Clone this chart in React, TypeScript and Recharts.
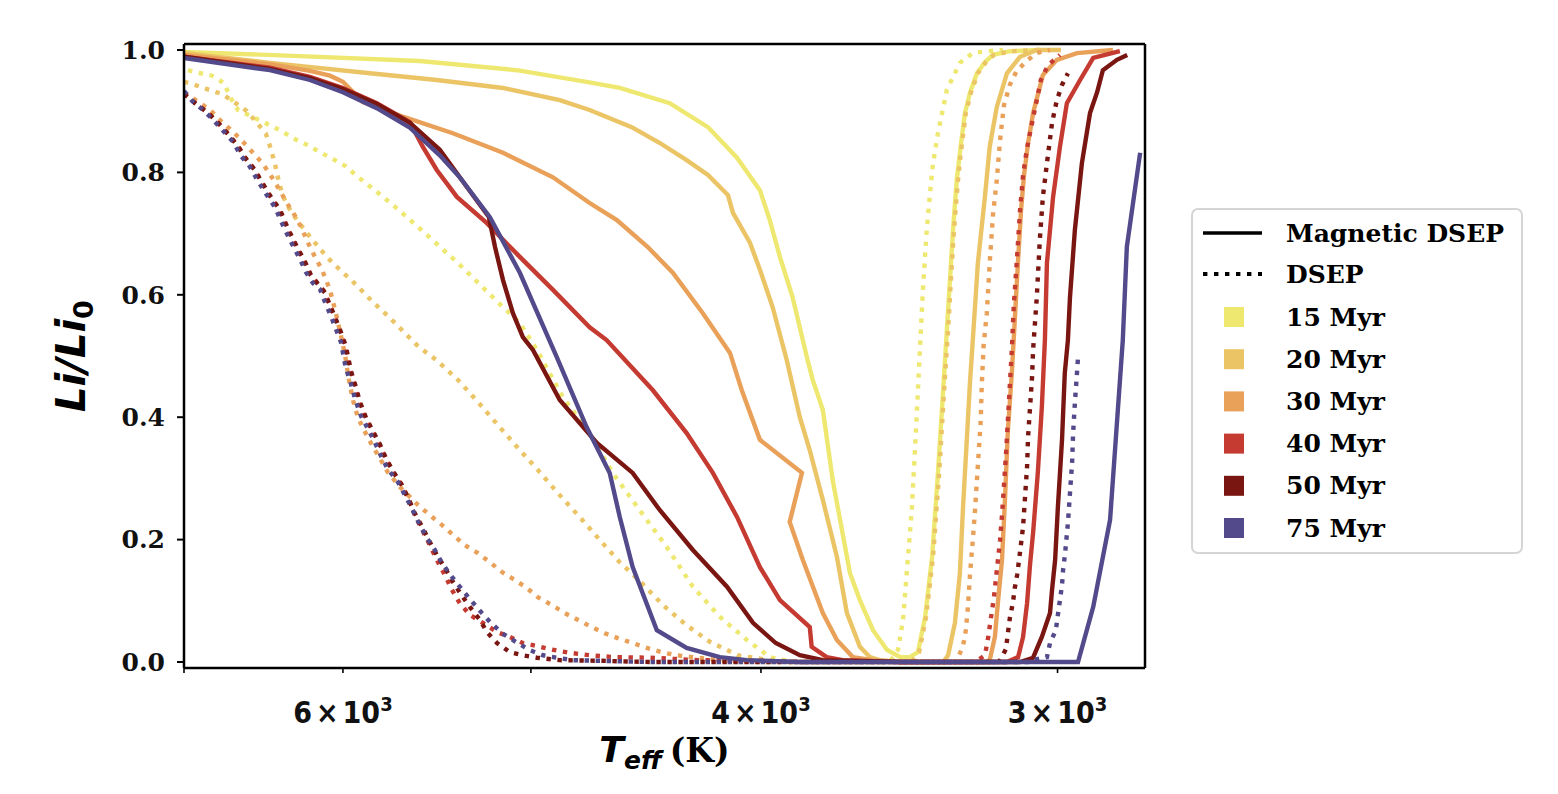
import React from 'react';
import { LineChart, Line, XAxis, YAxis } from 'recharts';

type Pt = [number, number];

const ages = ['15 Myr', '20 Myr', '30 Myr', '40 Myr', '50 Myr', '75 Myr'];
const colors = ['#eee870', '#ebc465', '#e9a15a', '#c53a31', '#7a1611', '#524a8b'];

// Magnetic DSEP: [Teff (K), Li/Li0]
const mag15: Pt[] = [
  [7000, 0.997], [6255, 0.99], [5569, 0.982], [5069, 0.967], [4737, 0.948], [4587, 0.938], [4370, 0.913],
  [4211, 0.874], [4094, 0.824], [4004, 0.771], [3966, 0.722], [3927, 0.662], [3879, 0.596], [3823, 0.493],
  [3804, 0.461], [3767, 0.412], [3731, 0.297], [3669, 0.145], [3634, 0.101], [3588, 0.052], [3540, 0.02],
  [3495, 0.008], [3462, 0.008], [3435, 0.016], [3411, 0.074], [3388, 0.172], [3369, 0.309], [3352, 0.444],
  [3340, 0.542], [3330, 0.624], [3320, 0.706], [3308, 0.788], [3298, 0.832], [3282, 0.897], [3266, 0.93],
  [3244, 0.962], [3219, 0.98], [3194, 0.992], [3142, 0.998], [3052, 1.0],
];
const mag20: Pt[] = [
  [7000, 0.995], [6440, 0.979], [5845, 0.962], [5478, 0.951], [5137, 0.938], [4862, 0.918], [4723, 0.902],
  [4534, 0.874], [4412, 0.848], [4299, 0.82], [4211, 0.796], [4130, 0.763], [4110, 0.734], [4043, 0.685],
  [4004, 0.641], [3955, 0.58], [3901, 0.493], [3852, 0.4], [3815, 0.346], [3767, 0.265], [3716, 0.172],
  [3680, 0.08], [3634, 0.025], [3599, 0.008], [3565, 0.003], [3495, 0], [3352, 0], [3336, 0.011],
  [3314, 0.064], [3298, 0.145], [3288, 0.253], [3276, 0.363], [3266, 0.456], [3257, 0.526], [3241, 0.652],
  [3219, 0.76], [3204, 0.842], [3182, 0.907], [3151, 0.962], [3111, 0.989], [3061, 1.0], [2990, 1.0],
];
const mag30: Pt[] = [
  [7000, 0.992], [6440, 0.977], [6195, 0.966], [6076, 0.958], [6000, 0.948], [5885, 0.915], [5661, 0.891],
  [5393, 0.864], [5137, 0.832], [4894, 0.792], [4723, 0.75], [4600, 0.722], [4464, 0.678], [4357, 0.636],
  [4232, 0.57], [4122, 0.505], [4075, 0.444], [4004, 0.363], [3844, 0.309], [3890, 0.229], [3841, 0.167],
  [3767, 0.08], [3716, 0.036], [3659, 0.008], [3588, 0.003], [3495, 0], [3219, 0], [3204, 0.003],
  [3188, 0.041], [3178, 0.101], [3166, 0.167], [3157, 0.265], [3148, 0.379], [3136, 0.472], [3127, 0.559],
  [3117, 0.657], [3108, 0.739], [3099, 0.796], [3087, 0.848], [3072, 0.897], [3043, 0.959], [3002, 0.984],
  [2944, 0.995], [2843, 1.0],
];
const mag40: Pt[] = [
  [7000, 0.989], [6440, 0.971], [6195, 0.956], [6000, 0.938], [5806, 0.913], [5623, 0.882], [5553, 0.842],
  [5478, 0.804], [5372, 0.76], [5218, 0.717], [5054, 0.662], [4894, 0.608], [4723, 0.547], [4646, 0.526],
  [4442, 0.444], [4299, 0.374], [4191, 0.309], [4094, 0.237], [4004, 0.155], [3927, 0.101], [3815, 0.057],
  [3808, 0.025], [3753, 0.008], [3695, 0.003], [3495, 0], [3151, 0], [3117, 0.008], [3102, 0.041],
  [3090, 0.096], [3081, 0.16], [3072, 0.211], [3058, 0.309], [3046, 0.417], [3037, 0.526], [3031, 0.652],
  [3013, 0.76], [2993, 0.842], [2973, 0.913], [2935, 0.951], [2898, 0.987], [2824, 0.998],
];
const mag50: Pt[] = [
  [7000, 0.989], [6440, 0.969], [6195, 0.954], [6000, 0.936], [5806, 0.912], [5623, 0.881], [5462, 0.837],
  [5357, 0.792], [5208, 0.727], [5177, 0.678], [5137, 0.624], [5088, 0.57], [5039, 0.531], [4990, 0.51],
  [4862, 0.428], [4690, 0.358], [4530, 0.309], [4412, 0.248], [4273, 0.183], [4134, 0.123], [4031, 0.064],
  [3943, 0.031], [3852, 0.011], [3767, 0.003], [3495, 0], [3111, 0], [3072, 0.007], [3046, 0.041],
  [3022, 0.08], [3016, 0.118], [3007, 0.167], [2999, 0.253], [2987, 0.363], [2979, 0.472], [2970, 0.526],
  [2964, 0.596], [2950, 0.706], [2930, 0.815], [2907, 0.897], [2887, 0.931], [2871, 0.967], [2832, 0.984],
  [2804, 0.992],
];
const mag75: Pt[] = [
  [7000, 0.987], [6440, 0.967], [6195, 0.951], [6000, 0.931], [5806, 0.905], [5623, 0.873], [5462, 0.828],
  [5357, 0.792], [5203, 0.727], [5054, 0.636], [4876, 0.498], [4737, 0.384], [4632, 0.309], [4587, 0.237],
  [4530, 0.155], [4425, 0.052], [4299, 0.023], [4163, 0.008], [4055, 0.003], [3852, 0], [2941, 0],
  [2898, 0.09], [2851, 0.232], [2816, 0.526], [2805, 0.678], [2769, 0.832],
];

// standard DSEP
const dsep15: Pt[] = [
  [6973, 0.967], [6925, 0.964], [6812, 0.958], [6733, 0.946], [6694, 0.923], [6643, 0.902], [6553, 0.891],
  [6472, 0.881], [6378, 0.869], [6298, 0.856], [6213, 0.845], [6135, 0.833], [6059, 0.822], [5983, 0.81],
  [5919, 0.794], [5716, 0.747], [5531, 0.698], [5357, 0.649], [5188, 0.596], [5054, 0.554], [4971, 0.51],
  [4848, 0.433], [4723, 0.374], [4619, 0.309], [4499, 0.248], [4383, 0.188], [4273, 0.123], [4163, 0.074],
  [4055, 0.036], [3966, 0.008], [3879, 0], [3530, 0], [3502, 0.02], [3485, 0.069], [3469, 0.167],
  [3455, 0.253], [3445, 0.346], [3435, 0.444], [3428, 0.515], [3418, 0.613], [3405, 0.711], [3395, 0.766],
  [3385, 0.815], [3369, 0.864], [3340, 0.935], [3298, 0.979], [3257, 0.995], [3213, 0.998], [3163, 1.0],
];
const dsep20: Pt[] = [
  [7000, 0.948], [6939, 0.944], [6845, 0.936], [6746, 0.928], [6668, 0.915], [6585, 0.9], [6522, 0.881],
  [6465, 0.863], [6434, 0.838], [6409, 0.814], [6390, 0.791], [6366, 0.766], [6335, 0.747], [6273, 0.722],
  [6213, 0.701], [6153, 0.681], [6088, 0.66], [6018, 0.641], [5948, 0.623], [5885, 0.605], [5828, 0.588],
  [5761, 0.57], [5694, 0.551], [5639, 0.534], [5585, 0.518], [5531, 0.505], [5478, 0.493], [5367, 0.461],
  [5264, 0.425], [5162, 0.387], [5064, 0.35], [4967, 0.314], [4871, 0.276], [4769, 0.237], [4676, 0.199],
  [4587, 0.163], [4490, 0.129], [4399, 0.093], [4299, 0.06], [4203, 0.033], [4091, 0.011], [3966, 0.003],
  [3852, 0], [3455, 0], [3431, 0.016], [3408, 0.074], [3385, 0.172], [3365, 0.309], [3349, 0.444],
  [3336, 0.542], [3327, 0.624], [3317, 0.706], [3304, 0.788], [3295, 0.832], [3279, 0.897], [3263, 0.93],
  [3241, 0.962], [3216, 0.98], [3191, 0.992], [3139, 0.998], [3052, 1.0],
];
const dsep30: Pt[] = [
  [7000, 0.931], [6825, 0.902], [6746, 0.882], [6681, 0.868], [6611, 0.85], [6547, 0.832], [6484, 0.814],
  [6428, 0.792], [6384, 0.773], [6335, 0.75], [6285, 0.729], [6243, 0.708], [6207, 0.685], [6165, 0.662],
  [6123, 0.641], [6076, 0.608], [6041, 0.57], [6012, 0.534], [5988, 0.502], [5965, 0.461], [5942, 0.428],
  [5913, 0.399], [5873, 0.376], [5834, 0.355], [5789, 0.333], [5744, 0.31], [5677, 0.286], [5580, 0.257],
  [5515, 0.24], [5451, 0.224], [5393, 0.208], [5331, 0.191], [5264, 0.178], [5203, 0.163], [5142, 0.147],
  [5078, 0.134], [5020, 0.121], [4967, 0.106], [4899, 0.093], [4839, 0.08], [4778, 0.069], [4714, 0.057],
  [4654, 0.047], [4596, 0.039], [4530, 0.031], [4468, 0.023], [4404, 0.016], [4341, 0.011], [4278, 0.008],
  [4163, 0.003], [4004, 0], [3314, 0], [3304, 0.007], [3288, 0.026], [3279, 0.052], [3272, 0.093],
  [3266, 0.142], [3257, 0.199], [3250, 0.248], [3244, 0.297], [3238, 0.346], [3232, 0.395], [3229, 0.449],
  [3223, 0.518], [3213, 0.57], [3204, 0.652], [3194, 0.73], [3182, 0.788], [3172, 0.853], [3160, 0.91],
  [3142, 0.943], [3123, 0.964], [3096, 0.98], [3061, 0.995], [3022, 1.0],
];
const dsep40: Pt[] = [
  [7000, 0.93], [6925, 0.913], [6845, 0.899], [6779, 0.882], [6714, 0.864], [6649, 0.845], [6598, 0.824],
  [6541, 0.806], [6490, 0.783], [6440, 0.761], [6384, 0.74], [6347, 0.717], [6316, 0.699], [6273, 0.676],
  [6231, 0.655], [6195, 0.634], [6111, 0.606], [6082, 0.585], [6047, 0.562], [6018, 0.541], [5988, 0.518],
  [5959, 0.477], [5930, 0.451], [5908, 0.426], [5873, 0.4], [5834, 0.379], [5795, 0.358], [5761, 0.335],
  [5722, 0.314], [5672, 0.291], [5628, 0.265], [5596, 0.24], [5553, 0.214], [5515, 0.191], [5478, 0.167],
  [5435, 0.142], [5398, 0.118], [5357, 0.096], [5305, 0.077], [5239, 0.064], [5167, 0.049], [5103, 0.041],
  [5039, 0.031], [4971, 0.026], [4894, 0.02], [4815, 0.015], [4723, 0.011], [4610, 0.008], [4455, 0.007],
  [4244, 0.003], [4004, 0.002], [3852, 0], [3250, 0], [3219, 0.011], [3210, 0.036], [3201, 0.069],
  [3191, 0.105], [3182, 0.15], [3172, 0.199], [3166, 0.24], [3160, 0.289], [3154, 0.338], [3148, 0.395],
  [3142, 0.453], [3136, 0.51], [3130, 0.583], [3120, 0.662], [3111, 0.739], [3102, 0.796], [3090, 0.84],
  [3078, 0.873], [3064, 0.91], [3049, 0.951], [3028, 0.975], [2993, 0.992],
];
const dsep50: Pt[] = [
  [7000, 0.928], [6919, 0.912], [6838, 0.897], [6772, 0.881], [6707, 0.863], [6643, 0.843], [6591, 0.822],
  [6535, 0.804], [6484, 0.781], [6434, 0.76], [6378, 0.739], [6341, 0.716], [6310, 0.698], [6267, 0.675],
  [6225, 0.654], [6189, 0.632], [6105, 0.603], [6076, 0.583], [6041, 0.56], [6012, 0.539], [5983, 0.516],
  [5953, 0.475], [5925, 0.449], [5902, 0.425], [5867, 0.399], [5828, 0.377], [5789, 0.356], [5755, 0.333],
  [5716, 0.312], [5666, 0.289], [5628, 0.265], [5596, 0.243], [5553, 0.219], [5515, 0.196], [5478, 0.175],
  [5435, 0.154], [5393, 0.131], [5347, 0.109], [5305, 0.09], [5254, 0.069], [5218, 0.049], [5167, 0.031],
  [5103, 0.016], [5039, 0.011], [4971, 0.007], [4862, 0.003], [4676, 0.002], [4455, 0], [3178, 0],
  [3172, 0.003], [3154, 0.021], [3148, 0.047], [3142, 0.072], [3133, 0.096], [3127, 0.121], [3120, 0.142],
  [3114, 0.167], [3102, 0.221], [3096, 0.27], [3090, 0.319], [3087, 0.368], [3081, 0.417], [3075, 0.466],
  [3072, 0.51], [3061, 0.596], [3052, 0.69], [3043, 0.76], [3031, 0.815], [3016, 0.881], [3002, 0.918],
  [2987, 0.943], [2970, 0.962],
];
const dsep75: Pt[] = [
  [7000, 0.933], [6946, 0.917], [6872, 0.902], [6805, 0.886], [6740, 0.868], [6675, 0.85], [6624, 0.827],
  [6566, 0.809], [6516, 0.786], [6465, 0.765], [6409, 0.743], [6372, 0.721], [6341, 0.703], [6298, 0.68],
  [6255, 0.658], [6219, 0.637], [6177, 0.619], [6135, 0.609], [6105, 0.588], [6070, 0.565], [6041, 0.544],
  [6012, 0.523], [5983, 0.48], [5953, 0.454], [5930, 0.43], [5896, 0.402], [5856, 0.381], [5817, 0.359],
  [5783, 0.337], [5744, 0.315], [5688, 0.294], [5645, 0.27], [5607, 0.248], [5569, 0.224], [5531, 0.203],
  [5488, 0.183], [5451, 0.162], [5398, 0.139], [5352, 0.121], [5300, 0.101], [5249, 0.082], [5198, 0.064],
  [5142, 0.047], [5074, 0.033], [5010, 0.02], [4942, 0.011], [4876, 0.007], [4801, 0.003], [4676, 0.002],
  [4455, 0], [3081, 0], [3075, 0.003], [3031, 0.008], [3022, 0.031], [3005, 0.052], [2999, 0.077],
  [2993, 0.101], [2987, 0.126], [2984, 0.15], [2978, 0.178], [2970, 0.227], [2964, 0.276], [2958, 0.325],
  [2955, 0.374], [2950, 0.423], [2944, 0.472], [2941, 0.498],
];

const magnetic = [mag15, mag20, mag30, mag40, mag50, mag75];
const dsep = [dsep15, dsep20, dsep30, dsep40, dsep50, dsep75];

const xDomain = [2756, 7000];
const yDomain = [-0.0098, 1.0098];
const xTicks = [7000, 6000, 5000, 4000, 3000];
const xTickMantissa: Record<number, string> = { 6000: '6', 4000: '4', 3000: '3' };
const yTicks = [0, 0.2, 0.4, 0.6, 0.8, 1.0];

const DOTS = '4.4 6.6';
const SERIF = "'DejaVu Serif', 'Liberation Serif', serif";
const SANS = "'DejaVu Sans', 'Liberation Sans', sans-serif";
const COND = "'DejaVu Sans Condensed', 'Liberation Sans Narrow', 'DejaVu Sans', sans-serif";

const series = ages.flatMap((age, i) => [
  { name: `Magnetic DSEP ${age}`, color: colors[i], dash: undefined as string | undefined, rows: magnetic[i].map(([t, li]) => ({ t, li })) },
  { name: `DSEP ${age}`, color: colors[i], dash: DOTS, rows: dsep[i].map(([t, li]) => ({ t, li })) },
]);

function XTick(props: any) {
  const { x, y, payload } = props;
  const m = xTickMantissa[payload.value];
  return (
    <g>
      <line x1={x} x2={x} y1={y} y2={y + 5} stroke="#000" strokeWidth={1.6} />
      {m && (
        <text x={x} y={y + 55} textAnchor="middle" fontFamily={COND} fontStretch="condensed" fontWeight="bold" fontSize={30} fill="#111">
          {m}
          <tspan dx={4}>×</tspan>
          <tspan dx={4}>10</tspan>
          <tspan dy={-12} fontSize={20}>3</tspan>
        </text>
      )}
    </g>
  );
}

function YLabel(props: any) {
  const vb = props.viewBox || { x: 104, y: 44, width: 80, height: 624 };
  const cx = vb.x + vb.width - 99;
  const cy = vb.y + vb.height / 2;
  return (
    <text transform={`translate(${cx},${cy}) rotate(-90)`} textAnchor="middle" fontFamily={SANS} fontWeight="bold" fill="#000">
      <tspan fontStyle="italic" fontSize={40}>Li/Li</tspan>
      <tspan fontSize={27} dy={8}>0</tspan>
    </text>
  );
}

function XLabel(props: any) {
  const vb = props.viewBox || { x: 184, y: 668, width: 961 };
  const cx = vb.x + vb.width / 2;
  return (
    <text x={cx} y={vb.y + 94} textAnchor="middle" fill="#000" fontWeight="bold">
      <tspan fontFamily={SANS} fontStyle="italic" fontSize={36}>T</tspan>
      <tspan fontFamily={SANS} fontStyle="italic" fontSize={25} dy={7}>eff</tspan>
      <tspan fontFamily={SERIF} fontSize={33} dy={-7} dx={8}>(K)</tspan>
    </text>
  );
}

function LegendBox() {
  const rowY = (i: number) => 109 + i * 42.2;
  return (
    <svg style={{ position: 'absolute', left: 1191, top: 208 }} width={334} height={348}>
      <rect x={1} y={1} width={330} height={344} rx={6} fill="#fff" stroke="#d5d5d5" strokeWidth={2} />
      <line x1={12} x2={71} y1={25} y2={25} stroke="#000" strokeWidth={3.6} />
      <text x={95} y={25} dominantBaseline="central" fontFamily={SERIF} fontWeight="bold" fontSize={25} fill="#000">Magnetic DSEP</text>
      <line x1={12} x2={71} y1={66} y2={66} stroke="#000" strokeWidth={4} strokeDasharray={DOTS} />
      <text x={95} y={66} dominantBaseline="central" fontFamily={SERIF} fontWeight="bold" fontSize={25} fill="#000">DSEP</text>
      {ages.map((age, i) => (
        <g key={age}>
          <rect x={33} y={rowY(i) - 10} width={20} height={20} fill={colors[i]} />
          <text x={95} y={rowY(i)} dominantBaseline="central" fontFamily={SERIF} fontWeight="bold" fontSize={25} fill="#000">{age}</text>
        </g>
      ))}
    </svg>
  );
}

export default function App() {
  return (
    <div style={{ position: 'absolute', left: 0, top: 0, width: 1558, height: 794, background: '#fff' }}>
      <LineChart width={1558} height={794} margin={{ top: 43, right: 412, bottom: 26, left: 104 }}>
        <XAxis
          dataKey="t"
          type="number"
          scale="log"
          domain={xDomain}
          reversed
          allowDataOverflow
          ticks={xTicks}
          interval={0}
          height={100}
          tickSize={0}
          tickMargin={0}
          tickLine={false}
          tick={<XTick />}
          axisLine={{ stroke: '#000', strokeWidth: 2.5 }}
          label={<XLabel />}
        />
        <XAxis
          xAxisId="top"
          orientation="top"
          dataKey="t"
          type="number"
          scale="log"
          domain={xDomain}
          reversed
          allowDataOverflow
          height={1}
          tick={false}
          tickLine={false}
          axisLine={{ stroke: '#000', strokeWidth: 2.5 }}
        />
        <YAxis
          type="number"
          domain={yDomain}
          allowDataOverflow
          ticks={yTicks}
          interval={0}
          width={80}
          tickSize={7}
          tickMargin={12}
          tickFormatter={(v: number) => v.toFixed(1)}
          tick={{ fontFamily: SERIF, fontWeight: 'bold', fontSize: 25, fill: '#111' }}
          tickLine={{ stroke: '#000', strokeWidth: 2 }}
          axisLine={{ stroke: '#000', strokeWidth: 2.5 }}
          label={<YLabel />}
        />
        <YAxis
          yAxisId="right"
          orientation="right"
          type="number"
          domain={yDomain}
          allowDataOverflow
          width={1}
          tick={false}
          tickLine={false}
          axisLine={{ stroke: '#000', strokeWidth: 2.5 }}
        />
        {series.map((s) => (
          <Line
            key={s.name}
            name={s.name}
            data={s.rows}
            dataKey="li"
            type="linear"
            stroke={s.color}
            strokeWidth={4.4}
            strokeDasharray={s.dash}
            dot={false}
            activeDot={false}
            isAnimationActive={false}
          />
        ))}
      </LineChart>
      <LegendBox />
    </div>
  );
}
